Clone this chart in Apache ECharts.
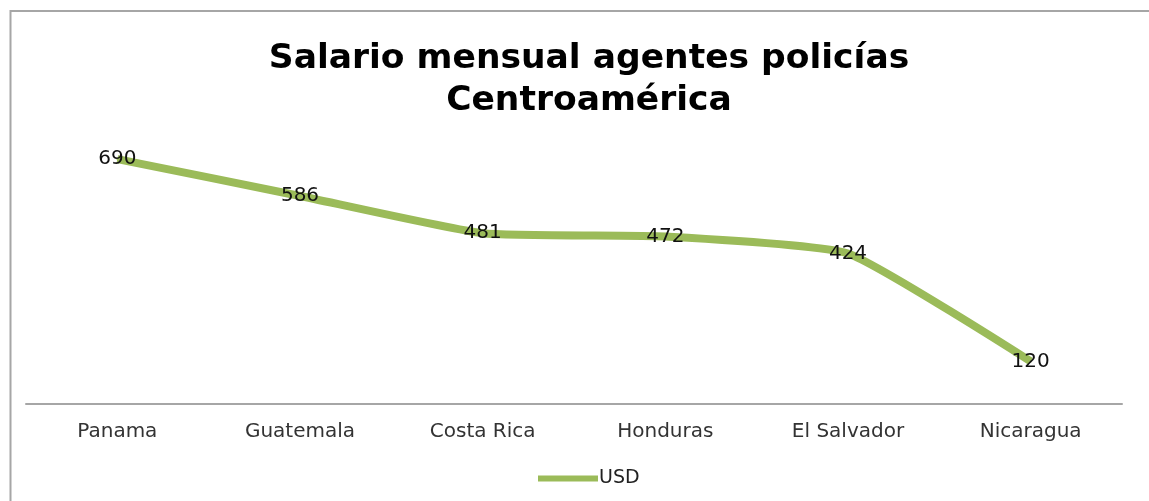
<!DOCTYPE html>
<html><head><meta charset="utf-8">
<script src="https://cdn.jsdelivr.net/npm/echarts@6/dist/echarts.min.js"></script>
<style>html,body{margin:0;padding:0;background:#fff}#c{width:1149px;height:501px}</style>
</head><body><div id="c"></div>
<script>
const titleLines = ['Salario mensual agentes policías', 'Centroamérica'];
const categories = ['Panama', 'Guatemala', 'Costa Rica', 'Honduras', 'El Salvador', 'Nicaragua'];
const seriesName = 'USD';
const usd = [690, 586, 481, 472, 424, 120];

const chart = echarts.init(document.getElementById('c'), null, {renderer: 'canvas'});
chart.setOption({
  animation: false,
  backgroundColor: '#fff',
  graphic: [{
    type: 'rect', shape: {x: 10.5, y: 11, width: 1200, height: 600},
    style: {fill: 'none', stroke: '#a6a6a6', lineWidth: 2}, silent: true
  }],
  title: {
    text: titleLines.join('\n'),
    left: 584, top: 33, textAlign: 'center',
    textStyle: {fontFamily: 'DejaVu Sans', fontWeight: 'bold', fontSize: 34.5, lineHeight: 42, color: '#000'}
  },
  legend: {
    data: [seriesName], left: 533, top: 464,
    itemWidth: 60, itemHeight: 14, itemGap: 0,
    icon: 'path://M0,5 L58,5 L58,11 L0,11 Z',
    itemStyle: {color: '#9bbb59', opacity: 1},
    textStyle: {fontFamily: 'DejaVu Sans', fontSize: 19, color: '#222', padding: [0, 0, 0, -4]}
  },
  grid: {left: 26, right: 27, top: 120, bottom: 97},
  xAxis: {
    type: 'category', data: categories, boundaryGap: true,
    axisLine: {lineStyle: {color: '#a6a6a6', width: 2}},
    axisTick: {show: false},
    axisLabel: {fontFamily: 'DejaVu Sans', fontSize: 20, color: '#333', margin: 18}
  },
  yAxis: {
    type: 'value', min: 0, max: 800, interval: 100,
    show: false, splitLine: {show: false}
  },
  series: [{
    name: seriesName, type: 'line', data: usd, smooth: 0.15,
    symbol: 'circle', symbolSize: 2, showSymbol: true,
    lineStyle: {color: '#9bbb59', width: 8},
    itemStyle: {color: '#9bbb59'},
    label: {show: true, position: 'inside', fontFamily: 'DejaVu Sans', fontSize: 20, color: '#111'}
  }]
});
</script></body></html>
